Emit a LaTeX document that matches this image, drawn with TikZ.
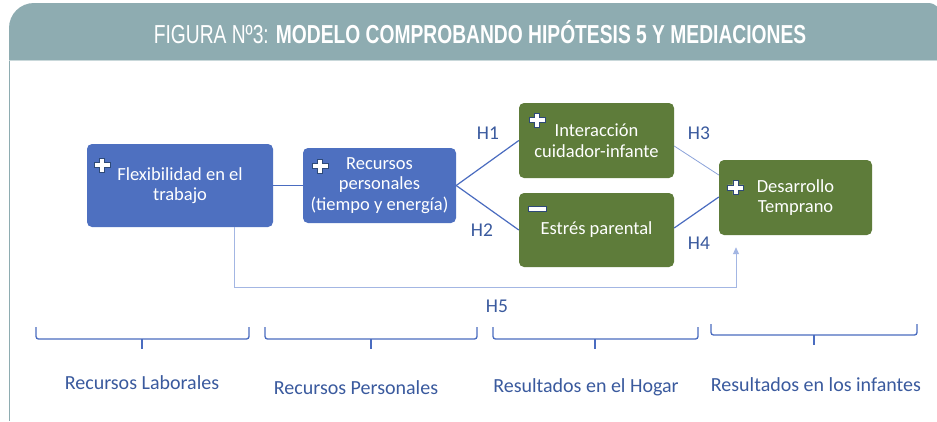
\documentclass[tikz,border=0pt]{standalone}
\usepackage{fontspec}
\setmainfont{Carlito}
\newfontfamily\titlefont[FakeStretch=0.74]{Liberation Sans}
\usetikzlibrary{arrows.meta,calc}
\definecolor{hdr}{HTML}{8EACB1}
\definecolor{hdrline}{HTML}{C9D8DA}
\definecolor{boxblue}{HTML}{4E70C0}
\definecolor{boxgreen}{HTML}{5E7C3A}
\definecolor{conn}{HTML}{4A6CC0}
\definecolor{connlight}{HTML}{8CA3DA}
\definecolor{hfive}{HTML}{A3B6E3}
\definecolor{lbl}{HTML}{3A5A9E}
\definecolor{iconedge}{HTML}{2E4A78}
\tikzset{
  x=1pt, y=-1pt,
  boxbase/.style={rounded corners=5pt, text=white, align=center,
    font=\fontsize{18.5}{20.5}\selectfont, inner sep=0pt},
  bluebox/.style={boxbase, fill=boxblue},
  greenbox/.style={boxbase, fill=boxgreen},
  connline/.style={draw=conn, line width=1.2pt},
  connthin/.style={draw=connlight, line width=0.8pt},
  hline/.style={draw=hfive, line width=0.9pt},
  hlabel/.style={text=lbl, font=\fontsize{19.5}{19.5}\selectfont, inner sep=0pt},
  bottomlabel/.style={text=lbl, font=\fontsize{20}{20}\selectfont, inner sep=0pt},
  bracepath/.style={draw=conn, line width=1.3pt, rounded corners=2.5pt},
  plusicon/.pic={
    \filldraw[fill=white, draw=iconedge, line width=0.5pt]
      (-2.6,-7) -- (2.6,-7) -- (2.6,-2.6) -- (8,-2.6) -- (8,2.6) -- (2.6,2.6)
      -- (2.6,7) -- (-2.6,7) -- (-2.6,2.6) -- (-8,2.6) -- (-8,-2.6) -- (-2.6,-2.6) -- cycle;
  },
  minusicon/.pic={
    \filldraw[fill=white, draw=iconedge, line width=0.5pt] (-9,-2.6) rectangle (9,2.6);
  }
}
\begin{document}
\begin{tikzpicture}
\useasboundingbox (0,0) rectangle (937,421);
\fill[white] (0,0) rectangle (937,421);
% header
\fill[hdr] (9,60) [rounded corners=25pt] -- (9,3) [rounded corners=14pt] -- (942,3) [sharp corners] -- (942,60) -- cycle;
\draw[hdrline, line width=1pt] (9,60.5) -- (937,60.5);
\draw[hdr, line width=1pt] (9,61) -- (9,421);
\node[text=white, inner sep=0pt, font=\titlefont\fontsize{26}{26}\selectfont] (title) at (480,32)
  {FIGURA Nº3: \textbf{MODELO COMPROBANDO HIPÓTESIS 5 Y MEDIACIONES}};

% boxes
\node[bluebox, minimum width=186pt, minimum height=83pt] (flex) at (180,185.5) {Flexibilidad en el\\trabajo};
\node[bluebox, minimum width=153pt, minimum height=75pt] (rec) at (379.5,185.5) {Recursos\\personales\\(tiempo y energía)};
\node[greenbox, minimum width=155pt, minimum height=75pt] (inter) at (596.5,140.5) {Interacción\\cuidador-infante};
\node[greenbox, minimum width=155pt, minimum height=74pt] (est) at (596.5,230) {Estrés parental};
\node[greenbox, minimum width=153pt, minimum height=75pt] (des) at (795.5,197.5) {Desarrollo\\Temprano};

% icons
\pic at (102,165) {plusicon};
\pic at (320,166) {plusicon};
\pic at (537,120) {plusicon};
\pic at (537,208.5) {minusicon};
\pic at (735.5,187.5) {plusicon};

% connectors
\draw[connline] (flex.east) -- (rec.west);
\draw[connline] (rec.east) -- (inter.west);
\draw[connline] (rec.east) -- (est.west);
\draw[connthin] ([yshift=-5.5pt]inter.east) -- ([yshift=22.5pt]des.west);
\draw[connline] ([yshift=2pt]est.east) -- ([yshift=0.5pt]des.west);
\coordinate (h5turn) at (736,287);
\draw[hline, -{Triangle[length=7pt,width=6pt]}] ([xshift=54pt]flex.south) |- (h5turn) -- ([yshift=-12pt]des.south -| h5turn);

% hypothesis labels
\node[hlabel] (h1) at (488,133) {H1};
\node[hlabel] (h2) at (482,230) {H2};
\node[hlabel] (h3) at (699,133) {H3};
\node[hlabel] (h4) at (699,243) {H4};
\node[hlabel] (h5) at (497,306) {H5};

% braces
\draw[bracepath] (36,327) -- (36,339) -- (249,339) -- (249,327);
\draw[conn, line width=1.3pt] (142,339) -- (142,349);
\draw[bracepath] (265,327) -- (265,339) -- (477,339) -- (477,327);
\draw[conn, line width=1.3pt] (371,339) -- (371,349);
\draw[bracepath] (493,327) -- (493,339) -- (698,339) -- (698,327);
\draw[conn, line width=1.3pt] (595,339) -- (595,349);
\draw[bracepath] (711,324) -- (711,335) -- (917,335) -- (917,324);
\draw[conn, line width=1.3pt] (814,335) -- (814,345);

% bottom labels
\node[bottomlabel] (lab1) at (142,383) {Recursos Laborales};
\node[bottomlabel] (lab2) at (356,388) {Recursos Personales};
\node[bottomlabel] (lab3) at (586,387) {Resultados en el Hogar};
\node[bottomlabel] (lab4) at (816,385) {Resultados en los infantes};
\end{tikzpicture}
\end{document}
